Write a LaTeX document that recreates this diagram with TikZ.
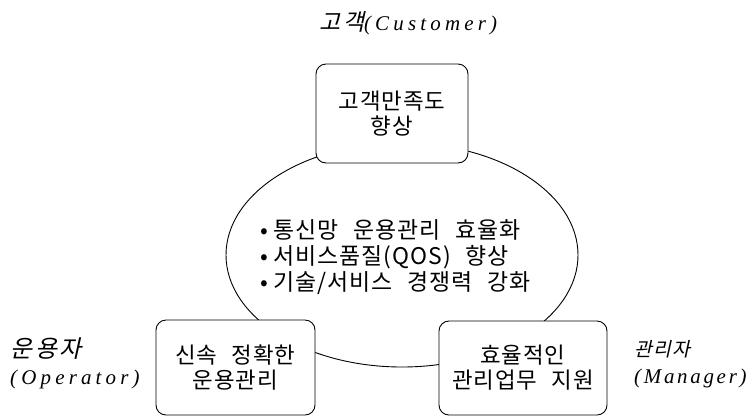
\documentclass[tikz,border=0pt]{standalone}
\usepackage{fontspec}
\usetikzlibrary{shapes.geometric}
\setmainfont{Liberation Serif}
\newfontfamily\kr[LetterSpace=4, WordSpace=2.4]{Noto Sans CJK KR}
\newfontfamily\krit[FakeSlant=0.22, LetterSpace=6]{Noto Sans CJK KR}
\newfontfamily\latit{Liberation Serif}
\tikzset{
  x=1bp, y=-1bp,
  roundbox/.style={draw, line width=0.9bp, rounded corners=10bp, fill=white,
    inner sep=0pt, align=center, font=\kr\fontsize{22.5}{25}\selectfont},
  rolelabel/.style={anchor=west, align=left, inner sep=0pt,
    font=\fontsize{21}{27}\selectfont}
}
\begin{document}
\begin{tikzpicture}
\useasboundingbox (0,0) rectangle (752,418);
% central ellipse
\node[draw, line width=0.9bp, ellipse, minimum width=352bp, minimum height=224bp,
  inner sep=0pt] (core) at (402,255) {};
\node[anchor=west, align=left, inner sep=0pt, font=\kr\fontsize{23}{26.5}\selectfont]
  (goals) at (260,257) {•\hspace{6bp}통신망 운용관리 효율화\\•\hspace{6bp}서비스품질(QOS) 향상\\•\hspace{6bp}기술/서비스 경쟁력 강화};
% boxes
\node[roundbox, minimum width=152bp, minimum height=99bp] (cust) at (392,113.5)
  {고객만족도\\향상};
\node[roundbox, minimum width=159bp, minimum height=95bp] (oper) at (235.5,367.5)
  {신속 정확한\\운용관리};
\node[roundbox, minimum width=168bp, minimum height=94bp] (mgr) at (523,368)
  {효율적인\\관리업무 지원};
% labels
\node[anchor=west, inner sep=0pt, font=\fontsize{21}{27}\selectfont] (custlab) at (319,23)
  {{\krit\fontsize{23}{27}\selectfont\addfontfeature{LetterSpace=12}고객}{\latit\addfontfeature{LetterSpace=20}\itshape (Customer)}};
\node[rolelabel] (operlab) at (10,363)
  {{\krit\fontsize{24}{27}\selectfont\addfontfeature{LetterSpace=12}운용자}\\{\latit\addfontfeature{LetterSpace=20}\itshape (Operator)}};
\node[rolelabel] (mgrlab) at (634,364)
  {{\krit\fontsize{19.5}{27}\selectfont 관리자}\\{\latit\addfontfeature{LetterSpace=13}\itshape (Manager)}};
\end{tikzpicture}
\end{document}
